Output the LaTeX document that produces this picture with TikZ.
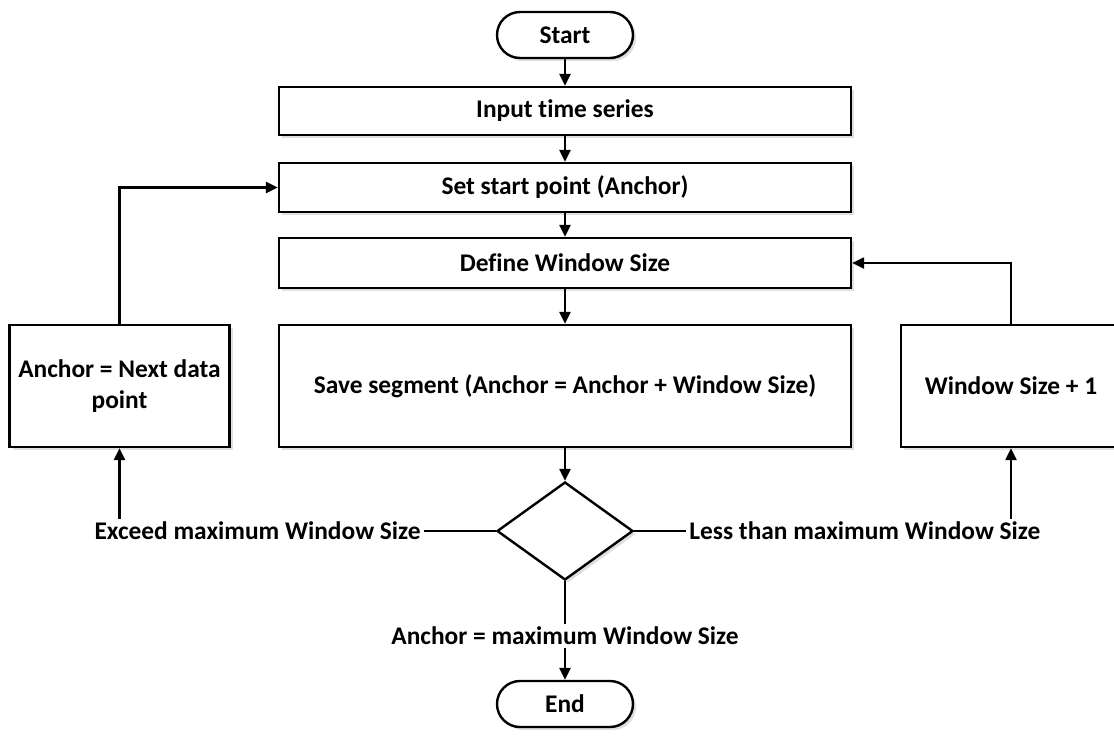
\documentclass[tikz,border=0pt]{standalone}
\usepackage{fontspec}
\setmainfont{Carlito}[Ligatures=NoCommon]
\usetikzlibrary{positioning,shapes.geometric,shadows,arrows.meta}
\begin{document}
\begin{tikzpicture}[x=0.5pt,y=-0.5pt,>={Triangle[length=6pt,width=5.5pt]},line width=1.2pt,
  font=\fontsize{12.7}{15.5}\selectfont\bfseries,
  shade/.style={drop shadow={opacity=0.25,shadow xshift=1.5pt,shadow yshift=-1.5pt}},
  stepbox/.style={draw, fill=white, shade, align=center, minimum width=286pt, minimum height=24pt, inner sep=2pt},
  sidebox/.style={draw, fill=white, shade, align=flush center, text width=106pt, minimum width=110pt, minimum height=61pt, inner sep=2pt},
  term/.style={draw, fill=white, shade, rounded corners=11.5pt, minimum width=68pt, minimum height=23pt},
  lbl/.style={inner sep=1pt}]
\clip (0,0) rectangle (1114,735);
% Start and main steps
\node[term] (start) at (565,35) {Start};
\node[stepbox] (input) at (565,111) {Input time series};
\node[stepbox, minimum height=24.5pt] (anchorset) at (565,187.5) {Set start point (Anchor)};
\node[stepbox, minimum height=25pt] (winsize) at (565,263) {Define Window Size};
\node[stepbox, minimum height=61pt] (saveseg) at (565,386) {Save segment (Anchor = Anchor + Window Size)};

% Side boxes
\node[sidebox] (nextpt) at (119.5,386) {Anchor = Next data point};
\node[sidebox] (winplus) at (1011,386) {Window Size + 1};

% Decision
\node[draw, fill=white, shade, diamond, inner sep=0pt, minimum width=68pt, minimum height=49pt] (check) at (565,531) {};
\node[lbl, left=36pt of check] (exceed) {Exceed maximum Window Size};
\node[lbl, right=26pt of check] (less) {Less than maximum Window Size};
\node[lbl] (maxend) at (565,636) {Anchor = maximum Window Size};
\node[term] (stop) at (565,704) {End};

% Connectors
\draw[->] (start) -- (input);
\draw[->] (input) -- (anchorset);
\draw[->] (anchorset) -- (winsize);
\draw[->] (winsize) -- (saveseg);
\draw[->] (saveseg) -- (check);
\draw (check.west) -- (exceed.east);
\draw (check.east) -- (less.west);
\draw (check.south) -- (maxend.north);
\draw[->] (maxend.south) -- (stop.north);
\draw[->] (nextpt.south |- exceed.north) -- (nextpt.south);
\draw[->] (winplus.south |- less.north) -- (winplus.south);
\draw[->] (nextpt.north) |- (anchorset.west);
\draw[->] (winplus.north) |- (winsize.east);
\end{tikzpicture}
\end{document}
